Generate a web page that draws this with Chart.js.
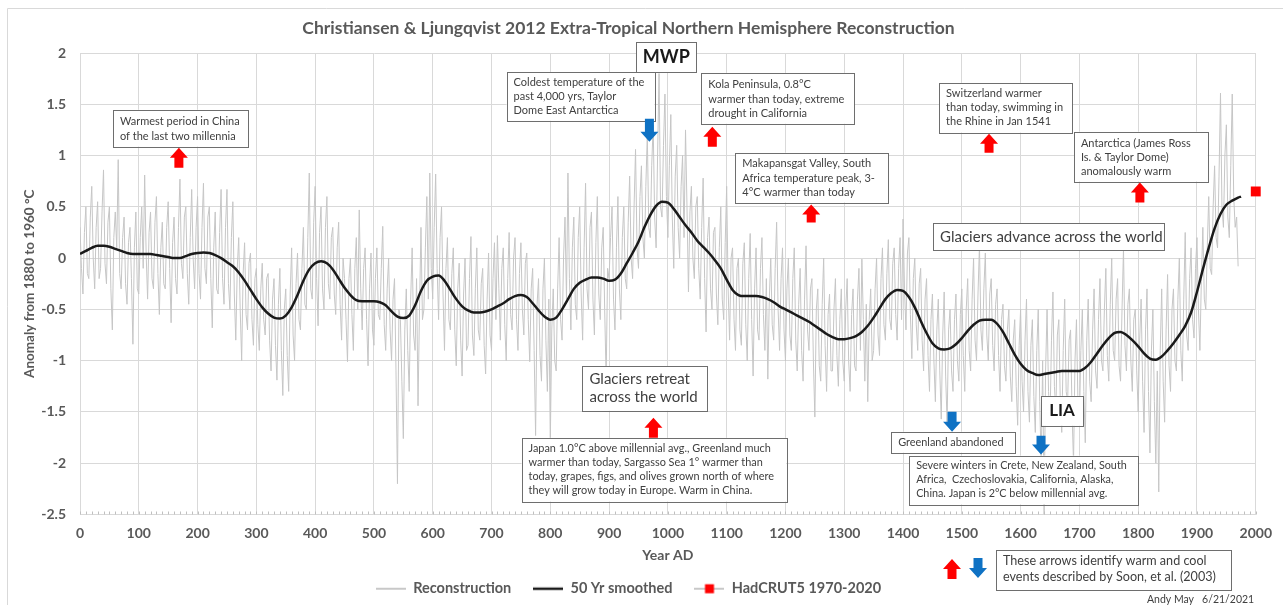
<!DOCTYPE html>
<html>
<head>
<meta charset="utf-8">
<script src="https://cdn.jsdelivr.net/npm/chart.js@4.4.1/dist/chart.umd.min.js"></script>
<style>
  html, body { margin: 0; padding: 0; background: #fff; }
  #wrap { width: 1283px; height: 606px; position: relative; }
</style>
</head>
<body>
<div id="wrap"><canvas id="myChart"></canvas></div>
<script>
// Reconstruction, every 2.5 years (0 .. 1970 AD)
const reconStart = 0;
const reconStep = 2.5;
const reconValues = [
  0.3,-0.1, -0.35,0.25, 0.5,-0.15, -0.2,0.4, 0.7,0.0, -0.3,0.3, 0.55,-0.2, -0.1,0.45, 0.86,-0.05, -0.25,0.35, 0.5,-0.3, -0.7,0.2, 0.45,0.1, 0.96,-0.15, -0.3,0.2, 0.4,-0.25, -0.45,0.15, 0.3,-0.2, -0.84,0.1, 0.45,-0.3,
  -0.35,0.2, 0.5,-0.1, 0.81,0.05, -0.4,0.25, 0.45,-0.2, -0.3,0.35, 0.6,-0.15, -0.55,0.1, 0.35,-0.25, -0.3,0.3, 0.55,-0.1, -0.63,0.15, 0.4,-0.2, -0.35,0.3, 0.77,-0.05, -0.2,0.4, 0.5,-0.15, -0.45,0.2, 0.67,0.0, -0.3,0.3,
  0.6,-0.15, -0.4,0.3, 0.73,-0.1, -0.25,0.4, 0.5,-0.2, -0.68,0.1, 0.45,-0.3, -0.35,0.25, 0.67,-0.2, -0.45,0.3, 0.67,-0.25, -0.5,0.2, 0.55,-0.35, -0.8,-0.1, 0.2,-0.5, -1.0,-0.15, 0.15,-0.55, -0.7,-0.05, 0.05,-0.6, -0.85,-0.2,
  -0.1,-0.65, -0.9,-0.3, -0.05,-0.6, -0.75,-0.2, -0.15,-0.8, -1.1,-0.4, -0.2,-0.85, -1.19,-0.45, -0.1,-0.9, -1.34,-0.5, -0.3,-0.95, -1.3,-0.35, 0.1,-0.75, -1.0,-0.25, 0.05,-0.6, -0.7,-0.1, 0.3,-0.45, -0.5,0.2, 0.83,-0.3, -0.4,0.35,
  0.7,-0.2, -0.66,0.25, 0.5,-0.3, -0.5,0.3, 0.6,-0.25, -0.4,0.2, 0.3,-0.35, -0.55,0.1, 0.35,-0.45, -0.8,0.0, -0.2,-0.6, -1.01,-0.2, 0.0,-0.55, -0.9,-0.1, 0.2,-0.5, 0.47,-0.3, -0.7,-0.1, 0.1,-0.6, -1.05,-0.3, 0.05,-0.7,
  -0.85,-0.2, 0.1,-0.55, -0.6,-0.1, 0.31,-0.65, -0.9,-0.3, 0.0,-0.7, -1.0,-0.4, -0.2,-1.1, -2.2,-0.5, -0.6,-1.2, -1.76,-0.7, -0.3,-0.9, -1.3,-0.4, 0.1,-0.75, -0.9,-0.2, -1.44,-0.5, 0.3,-0.6, -0.5,0.1, 0.6,-0.4, 0.83,-0.1,
  -0.4,0.3, 0.82,-0.1, -0.6,0.2, 0.5,-0.35, -0.9,-0.1, 0.2,-0.6, -0.7,-0.15, 0.1,-0.7, -1.05,-0.3, -0.05,-0.8, -1.15,-0.35, 0.0,-0.9, -0.85,-0.2, 0.21,-0.75, -0.95,-0.3, 0.1,-0.7, -0.8,-0.25, -0.1,-0.85, -1.13,-0.4, 0.05,-0.75,
  -0.9,-0.2, 0.15,-0.6, 0.22,-0.3, -0.8,-0.1, 0.1,-0.65, -1.0,-0.2, 0.25,-0.55, -0.7,0.0, 0.2,-0.6, -0.9,-0.15, 0.15,-0.5, -0.75,-0.05, 0.05,-0.6, -1.01,-0.3, -0.1,-0.9, -1.73,-0.45, -0.2,-0.95, -1.2,-0.3, 0.0,-0.8, -1.3,-0.4,
  -1.8,-0.7, -0.3,-1.0, -1.1,-0.3, 0.2,-0.6, -0.8,0.0, 0.4,-0.4, 0.83,-0.2, -0.7,0.1, 0.4,-0.45, -0.6,0.2, 0.5,-0.35, -0.8,0.1, 0.73,-0.3, -0.5,0.3, 0.45,-0.4, -0.75,0.15, 0.6,-0.35, -0.6,0.1, 0.3,-0.5, -1.18,-0.1,
  -0.2,0.2, 0.5,-0.4, -0.7,0.1, 0.6,-0.3, -0.6,0.2, 0.5,-0.2, -0.3,0.35, 0.8,0.0, -0.2,0.5, 1.06,0.1, -0.1,0.6, 0.9,0.2, 0.0,0.7, 1.2,0.3, 0.2,0.9, 1.3,0.4, 0.1,1.0, 1.8,0.5, 0.4,1.1, 1.6,0.6,
  0.2,0.9, 1.4,0.4, -0.1,0.8, 1.1,0.3, 0.0,0.7, 1.0,0.2, 1.25,0.5, -0.33,0.45, 0.7,0.0, -0.2,0.5, 0.6,-0.1, -0.4,0.3, 0.78,-0.2, -0.72,0.2, 0.4,-0.3, -0.5,0.25, 0.3,-0.35, -0.65,0.1, 0.5,-0.4, -0.6,0.15,
  0.7,-0.3, -0.8,0.0, 0.1,-0.6, -0.9,-0.1, 0.0,-0.7, -0.85,-0.05, 0.15,-0.65, -1.0,-0.2, 0.24,-0.6, -1.15,-0.3, 0.1,-0.7, -0.8,-0.1, 0.2,-0.55, -0.9,-0.2, -1.18,-0.4, 0.0,-0.65, -0.8,-0.1, 0.35,-0.5, -0.9,-0.2, 0.1,-0.7,
  -1.0,-0.3, 0.0,-0.75, -0.9,-0.2, 0.1,-0.8, -1.1,-0.45, -0.1,-0.9, -1.2,-0.4, 0.12,-0.7, -0.9,-0.3, -0.2,-1.0, -1.55,-0.5, -0.3,-1.05, -1.2,-0.45, 0.0,-0.85, -1.3,-0.55, -0.35,-1.1, -1.1,-0.5, -0.2,-0.95, -1.25,-0.6, -0.3,-1.0,
  -1.2,-0.5, -0.2,-1.0, -1.3,-0.55, -0.3,-1.05, -1.1,-0.4, -0.1,-0.9, -0.01,-0.6, -1.2,-0.45, -1.4,-0.6, -0.3,-1.0, -0.9,-0.3, 0.0,-0.75, -0.95,-0.2, 0.1,-0.65, -0.8,-0.15, 0.18,-0.6, -0.7,-0.05, 0.1,-0.55, -0.8,-0.1, 0.2,-0.6,
  0.38,-0.3, -0.7,0.05, 0.2,-0.55, -0.98,-0.2, 0.0,-0.65, -0.9,-0.25, -0.1,-0.8, -1.1,-0.4, -0.2,-0.95, -1.3,-0.6, -0.35,-1.0, -1.4,-0.7, -0.4,-1.1, -1.57,-0.75, -0.33,-1.15, -1.6,-0.7, -0.5,-1.1, -1.3,-0.6, -0.35,-1.0, -1.2,-0.55,
  -0.3,-0.95, -1.3,-0.5, -0.2,-0.9, -1.1,-0.4, 0.0,-0.8, -1.0,-0.35, 0.12,-0.7, -0.9,-0.3, 0.05,-0.75, -1.0,-0.35, -0.2,-0.85, -1.1,-0.45, -0.3,-0.95, -1.3,-0.6, -0.45,-1.05, -1.2,-0.7, -0.5,-1.15, -1.4,-0.8, -0.6,-1.25, -1.63,-0.85,
  -0.5,-1.2, -1.5,-0.8, -0.4,-1.3, -1.6,-0.85, -0.6,-1.35, -1.7,-0.9, -0.5,-1.4, -2.0,-1.0, -2.5,-1.1, -0.5,-1.3, -1.6,-0.8, -0.33,-1.25, -1.5,-0.75, -0.6,-1.4, -1.7,-0.9, -0.4,-1.3, -1.4,-0.8, -0.7,-1.5, -2.0,-1.0, -0.6,-1.4,
  -1.6,-0.9, -0.5,-1.3, -1.8,-0.8, -0.4,-1.2, -1.4,-0.7, -0.3,-1.1, -1.27,-0.6, -0.2,-1.0, -1.1,-0.5, -0.1,-0.95, -1.2,-0.45, 0.0,-0.9, -1.0,-0.4, -0.2,-1.05, -1.2,-0.5, 0.09,-0.85, -1.1,-0.45, -0.3,-1.0, -1.3,-0.6, -0.5,-1.1,
  -1.5,-0.8, -0.4,-1.2, -1.7,-0.7, -0.3,-1.3, -1.9,-0.9, -0.5,-1.4, -2.0,-1.1, -2.28,-0.9, -0.3,-1.2, -1.6,-0.7, -0.16,-1.05, -1.3,-0.5, -0.3,-1.0, -1.1,-0.4, 0.0,-0.9, -1.2,-0.4, 0.25,-0.75, -0.9,-0.2, 0.1,-0.6, -0.78,-0.1,
  0.2,-0.5, -0.9,-0.2, 0.3,-0.4, -0.5,0.1, 0.6,-0.1, -0.16,0.5, 0.9,0.2, 0.1,0.8, 1.61,0.5, 0.3,1.0, 1.3,0.4, 0.2,0.9, 1.6,0.6, 0.3,0.4, -0.08
];

// 50 year smoothed curve
const smoothYears = [
  0, 10, 20, 30, 40, 50, 60, 70, 80, 90, 100, 110, 120, 130, 140, 150, 160, 170, 180, 190,
  200, 210, 220, 230, 240, 250, 260, 270, 280, 290, 300, 310, 320, 330, 340, 350, 360, 370, 380, 390,
  400, 410, 420, 430, 440, 450, 460, 470, 480, 490, 500, 510, 520, 530, 540, 550, 560, 570, 580, 590,
  600, 610, 620, 630, 640, 650, 660, 670, 680, 690, 700, 710, 720, 730, 740, 750, 760, 770, 780, 790,
  800, 810, 820, 830, 840, 850, 860, 870, 880, 890, 900, 910, 920, 930, 940, 950, 960, 970, 980, 990,
  1000, 1010, 1020, 1030, 1040, 1050, 1060, 1070, 1080, 1090, 1100, 1110, 1120, 1130, 1140, 1150, 1160, 1170, 1180, 1190,
  1200, 1210, 1220, 1230, 1240, 1250, 1260, 1270, 1280, 1290, 1300, 1310, 1320, 1330, 1340, 1350, 1360, 1370, 1380, 1390,
  1400, 1410, 1420, 1430, 1440, 1450, 1460, 1470, 1480, 1490, 1500, 1510, 1520, 1530, 1540, 1550, 1560, 1570, 1580, 1590,
  1600, 1610, 1620, 1630, 1640, 1650, 1660, 1670, 1680, 1690, 1700, 1710, 1720, 1730, 1740, 1750, 1760, 1770, 1780, 1790,
  1800, 1810, 1820, 1830, 1840, 1850, 1860, 1870, 1880, 1890, 1900, 1910, 1920, 1930, 1940, 1950, 1960, 1970, 1975
];
const smoothValues = [
  0.04, 0.07, 0.10, 0.12, 0.12, 0.11, 0.09, 0.07, 0.05, 0.04, 0.04, 0.04, 0.04, 0.03, 0.02, 0.01, 0.0, 0.0, 0.02, 0.04,
  0.05, 0.055, 0.05, 0.03, 0.0, -0.04, -0.08, -0.14, -0.22, -0.31, -0.40, -0.48, -0.54, -0.58, -0.59, -0.56, -0.48, -0.36, -0.22, -0.11,
  -0.05, -0.03, -0.05, -0.11, -0.20, -0.29, -0.36, -0.41, -0.42, -0.42, -0.42, -0.43, -0.46, -0.52, -0.57, -0.585, -0.56, -0.46, -0.32, -0.22,
  -0.18, -0.17, -0.22, -0.31, -0.40, -0.47, -0.51, -0.53, -0.53, -0.52, -0.50, -0.47, -0.44, -0.40, -0.37, -0.36, -0.38, -0.44, -0.51, -0.57,
  -0.60, -0.58, -0.50, -0.40, -0.30, -0.24, -0.21, -0.19, -0.19, -0.20, -0.22, -0.21, -0.15, -0.05, 0.05, 0.16, 0.30, 0.42, 0.51, 0.55,
  0.54, 0.48, 0.40, 0.32, 0.25, 0.17, 0.11, 0.05, -0.02, -0.10, -0.21, -0.31, -0.36, -0.37, -0.37, -0.37, -0.38, -0.40, -0.43, -0.47,
  -0.50, -0.53, -0.56, -0.59, -0.62, -0.66, -0.70, -0.74, -0.77, -0.79, -0.79, -0.78, -0.76, -0.72, -0.66, -0.58, -0.49, -0.40, -0.34, -0.31,
  -0.32, -0.38, -0.48, -0.61, -0.73, -0.83, -0.88, -0.89, -0.88, -0.84, -0.78, -0.71, -0.65, -0.61, -0.60, -0.60, -0.64, -0.72, -0.83, -0.94,
  -1.03, -1.09, -1.12, -1.14, -1.13, -1.12, -1.11, -1.10, -1.10, -1.10, -1.10, -1.07, -1.01, -0.93, -0.85, -0.78, -0.73, -0.72, -0.75, -0.80,
  -0.86, -0.93, -0.98, -0.99, -0.96, -0.90, -0.83, -0.75, -0.66, -0.53, -0.33, -0.11, 0.10, 0.29, 0.43, 0.52, 0.56, 0.59, 0.60
];

// HadCRUT5 1970-2020 mean
const hadYears = [2000];
const hadValues = [0.65];

const textColor = "#404040";
const axisColor = "#595959";
const gridColor = "#d9d9d9";
const red = "#ff0000";
const blue = "#0f72c4";

// text boxes, placed in chart units (year, anomaly)
const boxNotes = [
  { x0: 56, x1: 285.5, top: 1.446, bottom: 1.087, size: 11, lh: 15, pad: 4.5,
    lines: ["Warmest period in China", "of the last two millennia"] },
  { x0: 946.5, x1: 1048.4, top: 2.107, bottom: 1.815, size: 18, bold: true, center: true, lines: ["MWP"] },
  { x0: 725.6, x1: 977.1, top: 1.815, bottom: 1.339, size: 11, lh: 14, pad: 3.7,
    lines: ["Coldest temperature of the", "past 4,000 yrs, Taylor", "Dome East Antarctica"] },
  { x0: 1056.9, x1: 1316.9, top: 1.806, bottom: 1.310, size: 11, lh: 14.2, pad: 4.9,
    lines: ["Kola Peninsula, 0.8°C", "warmer than today, extreme", "drought in California"] },
  { x0: 1114.7, x1: 1374.7, top: 1.028, bottom: 0.542, size: 11, lh: 14.3, pad: 3.9,
    lines: ["Makapansgat Valley, South", "Africa temperature peak, 3-", "4°C warmer than today"] },
  { x0: 1461.3, x1: 1687.3, top: 1.709, bottom: 1.224, size: 11, lh: 14, pad: 4,
    lines: ["Switzerland warmer", "than today, swimming in", "the Rhine in Jan 1541"] },
  { x0: 1690.7, x1: 1918.4, top: 1.233, bottom: 0.747, size: 11, lh: 14.2, pad: 4.2,
    lines: ["Antarctica (James Ross", "Is. & Taylor Dome)", "anomalously warm"] },
  { x0: 1451.1, x1: 1843.7, top: 0.338, bottom: 0.076, size: 15, lines: ["Glaciers advance across the world"] },
  { x0: 854.7, x1: 1067.1, top: -1.052, bottom: -1.489, size: 15, lh: 18, pad: 4,
    lines: ["Glaciers retreat", "across the world"] },
  { x0: 751.1, x1: 1201.4, top: -1.752, bottom: -2.374, size: 10.9, lh: 14, pad: 4,
    lines: ["Japan 1.0°C above millennial avg., Greenland much",
            "warmer than today, Sargasso Sea 1° warmer than",
            "today, grapes, figs, and olives grown north of where",
            "they will grow today in Europe. Warm in China."] },
  { x0: 1379.8, x1: 1590.5, top: -1.693, bottom: -1.897, size: 10.9, lines: ["Greenland abandoned"] },
  { x0: 1634.7, x1: 1706.0, top: -1.343, bottom: -1.635, size: 17, bold: true, center: true, lines: ["LIA"] },
  { x0: 1410.4, x1: 1799.5, top: -1.926, bottom: -2.402, size: 10.8, lh: 14.2, pad: 2.6,
    lines: ["Severe winters in Crete, New Zealand, South",
            "Africa,  Czechoslovakia, California, Alaska,",
            "China. Japan is 2°C below millennial avg."] }
];

// warm (red, up) and cool (blue, down) event arrows: x = year, tail -> tip in anomaly units
const arrowNotes = [
  { x: 168.2, tail: 0.882, tip: 1.077, color: red },
  { x: 968.6, tail: 1.359, tip: 1.135, color: blue },
  { x: 1075.6, tail: 1.087, tip: 1.281, color: red },
  { x: 1243.8, tail: 0.348, tip: 0.523, color: red },
  { x: 1546.3, tail: 1.028, tip: 1.213, color: red },
  { x: 1802.9, tail: 0.542, tip: 0.737, color: red },
  { x: 975.4, tail: -1.752, tip: -1.557, color: red },
  { x: 1483.4, tail: -1.499, tip: -1.693, color: blue },
  { x: 1634.7, tail: -1.732, tip: -1.916, color: blue }
];

function drawArrow(ctx, cx, tailY, tipY, color) {
  const dir = tipY < tailY ? -1 : 1;
  const headH = 10, hw = 9, sw = 4.5;
  const neck = tipY - dir * headH;
  ctx.beginPath();
  ctx.moveTo(cx, tipY);
  ctx.lineTo(cx + hw, neck);
  ctx.lineTo(cx + sw, neck);
  ctx.lineTo(cx + sw, tailY);
  ctx.lineTo(cx - sw, tailY);
  ctx.lineTo(cx - sw, neck);
  ctx.lineTo(cx - hw, neck);
  ctx.closePath();
  ctx.fillStyle = color;
  ctx.fill();
}

function drawBox(ctx, left, top, right, bottom, note) {
  ctx.fillStyle = "#ffffff";
  ctx.fillRect(left, top, right - left, bottom - top);
  ctx.strokeStyle = "#6e6e6e";
  ctx.lineWidth = 1;
  ctx.strokeRect(Math.round(left) + 0.5, Math.round(top) + 0.5, Math.round(right - left), Math.round(bottom - top));
  ctx.font = (note.bold ? "bold " : "") + note.size + "px Lato";
  ctx.fillStyle = note.bold ? "#1a1a1a" : textColor;
  ctx.textBaseline = "middle";
  ctx.textAlign = note.center ? "center" : "left";
  const tx = note.center ? (left + right) / 2 : left + 7;
  if (note.lines.length === 1) {
    ctx.fillText(note.lines[0], tx, (top + bottom) / 2);
  } else {
    note.lines.forEach((line, i) => {
      ctx.fillText(line, tx, top + note.pad + note.lh / 2 + i * note.lh);
    });
  }
}

const notesPlugin = {
  id: "notes",
  beforeDraw(chart) {
    const ctx = chart.ctx;
    ctx.save();
    ctx.strokeStyle = gridColor;
    ctx.lineWidth = 1;
    ctx.beginPath();
    ctx.moveTo(7.5, 605);
    ctx.lineTo(7.5, 8.5);
    ctx.lineTo(1283, 8.5);
    ctx.stroke();
    ctx.restore();
  },
  afterDatasetsDraw(chart) {
    const ctx = chart.ctx;
    const xs = chart.scales.x;
    const b = chart.chartArea.bottom;
    ctx.save();
    // minor ticks every 10 years
    ctx.strokeStyle = "#bfbfbf";
    ctx.lineWidth = 1;
    ctx.beginPath();
    for (let yr = 0; yr <= 2000; yr += 10) {
      const px = Math.round(xs.getPixelForValue(yr)) + 0.5;
      ctx.moveTo(px, b - 3);
      ctx.lineTo(px, b);
    }
    ctx.stroke();
    ctx.restore();
  },
  afterDraw(chart) {
    const ctx = chart.ctx;
    const xs = chart.scales.x, ys = chart.scales.y;
    ctx.save();
    boxNotes.forEach(n => {
      drawBox(ctx, xs.getPixelForValue(n.x0), ys.getPixelForValue(n.top),
        xs.getPixelForValue(n.x1), ys.getPixelForValue(n.bottom), n);
    });
    arrowNotes.forEach(a => {
      drawArrow(ctx, xs.getPixelForValue(a.x), ys.getPixelForValue(a.tail), ys.getPixelForValue(a.tip), a.color);
    });
    // key for the arrows, below the axis
    drawArrow(ctx, 952, 579, 559, red);
    drawArrow(ctx, 978, 558, 578, blue);
    drawBox(ctx, 996, 550, 1231, 590, { size: 12.6, lh: 15.7, pad: 3.2,
      lines: ["These arrows identify warm and cool", "events described by Soon, et al. (2003)"] });
    ctx.font = "10.5px Lato";
    ctx.fillStyle = textColor;
    ctx.textAlign = "left";
    ctx.textBaseline = "middle";
    ctx.fillText("Andy May   6/21/2021", 1147, 600);
    ctx.restore();
  }
};

function legendIcon(kind) {
  const c = document.createElement("canvas");
  c.width = 30; c.height = 12;
  const g = c.getContext("2d");
  g.lineWidth = kind === "smooth" ? 2.5 : 2;
  g.strokeStyle = kind === "smooth" ? "#1a1a1a" : "#c8c8c8";
  g.beginPath(); g.moveTo(0, 6); g.lineTo(30, 6); g.stroke();
  if (kind === "had") {
    g.fillStyle = red;
    g.fillRect(10.5, 1.5, 9, 9);
  }
  return c;
}
const legendIcons = [legendIcon("recon"), legendIcon("smooth"), legendIcon("had")];

document.addEventListener("DOMContentLoaded", function () {
  const reconPoints = reconValues.map((v, i) => ({ x: reconStart + i * reconStep, y: v }));
  const smoothPoints = smoothYears.map((yr, i) => ({ x: yr, y: smoothValues[i] }));
  const hadPoints = hadYears.map((yr, i) => ({ x: yr, y: hadValues[i] }));

  const ctx = document.getElementById("myChart");
  new Chart(ctx, {
    type: "line",
    data: {
      datasets: [
        {
          label: "Reconstruction",
          data: reconPoints,
          borderColor: "#c6c6c6",
          borderWidth: 1,
          pointRadius: 0,
          tension: 0,
          order: 3
        },
        {
          label: "50 Yr smoothed",
          data: smoothPoints,
          borderColor: "#1a1a1a",
          borderWidth: 2.5,
          pointRadius: 0,
          tension: 0.4,
          cubicInterpolationMode: "monotone",
          order: 2
        },
        {
          label: "HadCRUT5 1970-2020",
          data: hadPoints,
          showLine: false,
          pointStyle: "rect",
          pointRadius: 7,
          pointBorderWidth: 0,
          backgroundColor: red,
          borderColor: red,
          clip: false,
          order: 1
        }
      ]
    },
    options: {
      responsive: true,
      maintainAspectRatio: false,
      animation: false,
      devicePixelRatio: 1,
      layout: { padding: { left: 0, right: 26, top: 0, bottom: 0 } },
      scales: {
        x: {
          type: "linear",
          min: 0,
          max: 2000,
          afterFit: s => { s.height = 45; },
          ticks: {
            stepSize: 100,
            padding: 11,
            maxRotation: 0,
            autoSkip: false,
            color: axisColor,
            font: { family: "Lato", size: 14, weight: "bold" },
            callback: v => String(v)
          },
          grid: { color: gridColor, drawTicks: false },
          border: { color: gridColor },
          title: {
            display: true,
            text: "Year AD",
            color: axisColor,
            font: { family: "Lato", size: 14, weight: "bold" },
            padding: { top: 0, bottom: -4 }
          }
        },
        y: {
          min: -2.5,
          max: 2,
          afterFit: s => { s.width = 80; },
          ticks: {
            stepSize: 0.5,
            padding: 14,
            color: axisColor,
            font: { family: "Lato", size: 14, weight: "bold" },
            callback: v => String(Math.round(v * 10) / 10)
          },
          grid: { color: gridColor, drawTicks: false },
          border: { color: gridColor },
          title: {
            display: true,
            text: "Anomaly from 1880 to 1960 °C",
            color: axisColor,
            font: { family: "Lato", size: 13.5, weight: "bold" },
            padding: { top: 22, bottom: 0 }
          }
        }
      },
      plugins: {
        title: {
          display: true,
          text: "Christiansen & Ljungqvist 2012 Extra-Tropical Northern Hemisphere Reconstruction",
          color: axisColor,
          font: { family: "Lato", size: 17.5, weight: "bold" },
          padding: { top: 17.5, bottom: 14.5 }
        },
        legend: {
          position: "bottom",
          labels: {
            usePointStyle: true,
            pointStyleWidth: 30,
            padding: 22,
            color: axisColor,
            font: { family: "Lato", size: 14.5, weight: "bold" },
            sort: (a, b) => a.datasetIndex - b.datasetIndex,
            generateLabels(chart) {
              const items = Chart.defaults.plugins.legend.labels.generateLabels(chart);
              items.forEach(it => { it.pointStyle = legendIcons[it.datasetIndex]; });
              return items;
            }
          }
        },
        tooltip: { enabled: false }
      }
    },
    plugins: [notesPlugin]
  });
});
</script>
</body>
</html>
